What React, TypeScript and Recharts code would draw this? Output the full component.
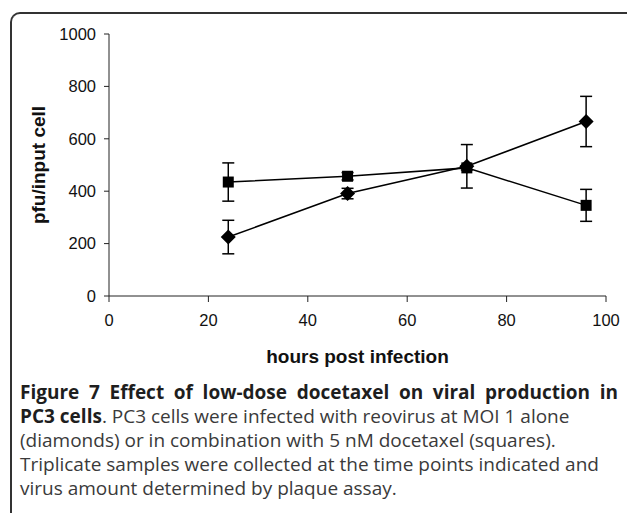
import React from "react";
import {
  ComposedChart,
  Line,
  XAxis,
  YAxis,
  ErrorBar,
  Label,
} from "recharts";

const hours = [24, 48, 72, 96];
const aloneMean = [225, 391, 495, 666];
const aloneErr = [64, 20, 83, 96];
const docetaxelMean = [435, 457, 489, 346];
const docetaxelErr = [73, 14, 8, 61];
const xTicks = [0, 20, 40, 60, 80, 100];
const yTicks = [0, 200, 400, 600, 800, 1000];

const aloneData = hours.map((h, i) => ({ hour: h, value: aloneMean[i], err: aloneErr[i] }));
const docetaxelData = hours.map((h, i) => ({ hour: h, value: docetaxelMean[i], err: docetaxelErr[i] }));

const DiamondDot = (props: any) => {
  const { cx, cy } = props;
  if (cx == null || cy == null) return null;
  const r = 7.5;
  return (
    <path
      d={`M${cx},${cy - r} L${cx + r},${cy} L${cx},${cy + r} L${cx - r},${cy} Z`}
      fill="#000"
    />
  );
};

const SquareDot = (props: any) => {
  const { cx, cy } = props;
  if (cx == null || cy == null) return null;
  return <rect x={cx - 5.5} y={cy - 5.5} width={11} height={11} fill="#000" />;
};

const chartFont = "'Liberation Sans', Arial, sans-serif";
const tickStyle = { fontFamily: chartFont, fontSize: 16.5, fill: "#111" };
const titleStyle = { fontFamily: chartFont, fontSize: 19, fontWeight: "bold", fill: "#111" };

const lineStyle: React.CSSProperties = { height: 24, lineHeight: "24px", whiteSpace: "nowrap" };

const App = () => {
  return (
    <div style={{ position: "absolute", left: 0, top: 0, width: 627, height: 513, background: "#fff", overflow: "hidden" }}>
      <div
        style={{
          position: "absolute",
          left: 10,
          top: 12,
          width: 640,
          height: 520,
          borderLeft: "2px solid #333",
          borderTop: "2px solid #333",
          borderTopLeftRadius: 10,
        }}
      />
      <div style={{ position: "absolute", left: 0, top: 0 }}>
        <ComposedChart width={627} height={372} margin={{ top: 34, right: 21, bottom: 6, left: 0 }}>
          <XAxis
            type="number"
            dataKey="hour"
            domain={[0, 100]}
            ticks={xTicks}
            allowDuplicatedCategory={false}
            stroke="#222"
            tickSize={6}
            tickMargin={12}
            tick={tickStyle}
            height={70}
          >
            <Label value="hours post infection" position="insideBottom" offset={3} style={titleStyle} />
          </XAxis>
          <YAxis
            type="number"
            domain={[0, 1000]}
            ticks={yTicks}
            stroke="#222"
            tickSize={5}
            tickMargin={8}
            tick={tickStyle}
            width={109}
          >
            <Label
              value="pfu/input cell"
              angle={-90}
              position="insideLeft"
              offset={38}
              style={{ ...titleStyle, textAnchor: "middle" }}
            />
          </YAxis>
          <Line
            data={docetaxelData}
            dataKey="value"
            stroke="#000"
            strokeWidth={1.5}
            dot={<SquareDot />}
            isAnimationActive={false}
          >
            <ErrorBar dataKey="err" width={6} stroke="#000" strokeWidth={1.5} direction="y" />
          </Line>
          <Line
            data={aloneData}
            dataKey="value"
            stroke="#000"
            strokeWidth={1.5}
            dot={<DiamondDot />}
            isAnimationActive={false}
          >
            <ErrorBar dataKey="err" width={6} stroke="#000" strokeWidth={1.5} direction="y" />
          </Line>
        </ComposedChart>
      </div>
      <div
        style={{
          position: "absolute",
          left: 20,
          top: 380,
          width: 598,
          fontFamily: "'Open Sans', 'Noto Sans', sans-serif",
          fontSize: 19,
          color: "#3a3a3a",
        }}
      >
        <div style={{ ...lineStyle, whiteSpace: "normal", textAlign: "justify", textAlignLast: "justify", fontWeight: "bold", color: "#1e1e1e" }}>
          Figure 7 Effect of low-dose docetaxel on viral production in
        </div>
        <div style={lineStyle}>
          <b style={{ color: "#1e1e1e" }}>PC3 cells</b>. PC3 cells were infected with reovirus at MOI 1 alone
        </div>
        <div style={lineStyle}>(diamonds) or in combination with 5 nM docetaxel (squares).</div>
        <div style={lineStyle}>Triplicate samples were collected at the time points indicated and</div>
        <div style={lineStyle}>virus amount determined by plaque assay.</div>
      </div>
    </div>
  );
};

export default App;
